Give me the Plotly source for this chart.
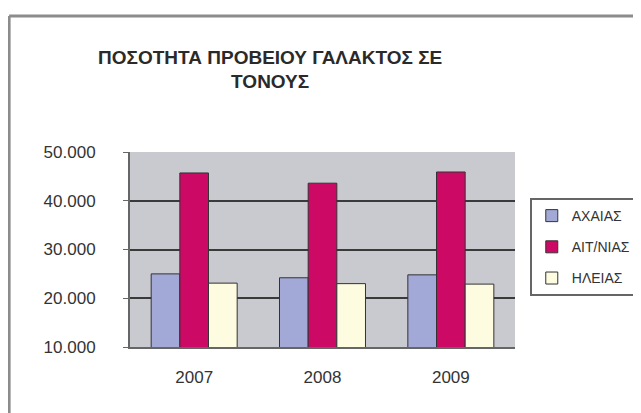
import plotly.graph_objects as go

years = ["2007", "2008", "2009"]
series = ["ΑΧΑΙΑΣ", "ΑΙΤ/ΝΙΑΣ", "ΗΛΕΙΑΣ"]
achaia = [25000, 24200, 24800]
aitnia = [45700, 43600, 45900]
ileia = [23100, 23000, 22900]
colors = ["#a3a9d6", "#cc0a66", "#fdfbe0"]

fig = go.Figure()
for name, vals, col in zip(series, [achaia, aitnia, ileia], colors):
    fig.add_trace(go.Bar(x=years, y=vals, name=name, legendgroup=name,
                         marker_color=col,
                         marker_line=dict(color="#333333", width=1)))

# outer chart frame (top and left edges visible in the reference)
frame = dict(color="#8c8c8c", width=3)
fig.update_layout(
    width=641, height=413,
    margin=dict(l=122, r=134, t=144, b=74, autoexpand=False),
    paper_bgcolor="white",
    plot_bgcolor="#c9c9d0",
    separators=",.",
    barmode="group", bargap=0.33, bargroupgap=0,
    font=dict(family="Liberation Sans, Arial", size=16, color="#333"),
    title=dict(text="<b>ΠΟΣΟΤΗΤΑ ΠΡΟΒΕΙΟΥ ΓΑΛΑΚΤΟΣ ΣΕ<br>ΤΟΝΟΥΣ</b>",
               x=0.409, xref="container", xanchor="center", y=0.865, yanchor="middle",
               font=dict(size=19, color="#2a2a2a")),
    legend=dict(x=0.814, xref="container", y=0.764, xanchor="left", yanchor="top",
                bordercolor="#666", borderwidth=2, bgcolor="white",
                font=dict(size=14), itemwidth=30, tracegroupgap=10),
    shapes=[
        dict(type="line", xref="paper", yref="paper",
             x0=-0.314, x1=1.35, y0=1.697, y1=1.697, line=frame),
        dict(type="line", xref="paper", yref="paper",
             x0=-0.314, x1=-0.314, y0=1.697, y1=-0.40, line=frame),
    ],
)
fig.update_yaxes(range=[10000, 50000], dtick=10000, tickformat=",d",
                 showgrid=True, gridcolor="#3a3a3a", gridwidth=2,
                 showline=True, linecolor="#666", linewidth=2,
                 ticks="outside", ticklen=5, tickcolor="#666",
                 tickfont=dict(size=17), ticklabelstandoff=24, zeroline=False)
fig.update_xaxes(showline=True, linecolor="#666", linewidth=2,
                 tickfont=dict(size=17), ticklabelstandoff=14)

fig.write_html("out.html")
